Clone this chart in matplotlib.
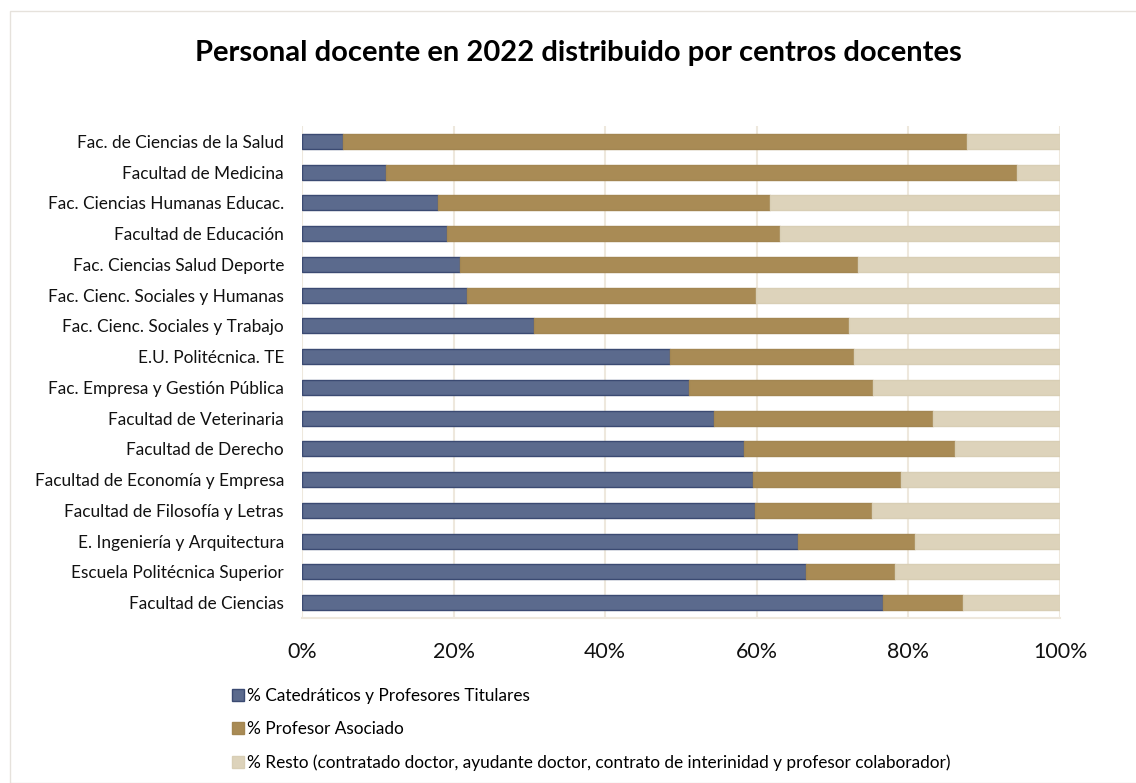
import matplotlib
matplotlib.use('Agg')
import matplotlib.pyplot as plt
from matplotlib.patches import Rectangle, Patch
from matplotlib.ticker import FuncFormatter

plt.rcParams['font.family'] = ['Lato', 'DejaVu Sans']

centros = [
    'Fac. de Ciencias de la Salud',
    'Facultad de Medicina',
    'Fac. Ciencias Humanas Educac.',
    'Facultad de Educación',
    'Fac. Ciencias Salud Deporte',
    'Fac. Cienc. Sociales y Humanas',
    'Fac. Cienc. Sociales y Trabajo',
    'E.U. Politécnica. TE',
    'Fac. Empresa y Gestión Pública',
    'Facultad de Veterinaria',
    'Facultad de Derecho',
    'Facultad de Economía y Empresa',
    'Facultad de Filosofía y Letras',
    'E. Ingeniería y Arquitectura',
    'Escuela Politécnica Superior',
    'Facultad de Ciencias',
]

catedraticos = [5.4, 11.1, 17.9, 19.1, 20.8, 21.8, 30.6, 48.5, 51.0, 54.4, 58.3, 59.5, 59.7, 65.4, 66.5, 76.6]
asociado = [82.3, 83.2, 43.8, 44.0, 52.5, 38.1, 41.6, 24.3, 24.3, 28.8, 27.9, 19.5, 15.5, 15.5, 11.7, 10.6]
resto = [round(100 - c - a, 1) for c, a in zip(catedraticos, asociado)]

series_labels = [
    '% Catedráticos y Profesores Titulares',
    '% Profesor Asociado',
    '% Resto (contratado doctor, ayudante doctor, contrato de interinidad y profesor colaborador)',
]
colors = ['#5B6A8D', '#A98B55', '#DDD3BB']
edges = ['#3B4A72', '#A38652', '#D8CEB5']
grid_color = '#EEE8DD'

fig = plt.figure(figsize=(11.36, 7.83), dpi=100)
W, H = 1136, 783
ax = fig.add_axes([302 / W, 1 - 618 / H, (1060 - 302) / W, (618 - 126) / H])

y = list(range(len(centros)))
left = [0] * len(centros)
for vals, col, ec, lab in zip([catedraticos, asociado, resto], colors, edges, series_labels):
    ax.barh(y, vals, left=left, height=0.49, color=col, edgecolor=ec, linewidth=1.0, label=lab, zorder=3)
    left = [l + v for l, v in zip(left, vals)]

ax.set_xlim(0, 100)
ax.set_ylim(len(centros) - 0.5, -0.5)
ax.set_yticks(y)
ax.set_yticklabels(centros, fontsize=12.4, color='#111111')
ax.set_xticks([0, 20, 40, 60, 80, 100])
ax.xaxis.set_major_formatter(FuncFormatter(lambda v, p: f'{int(v)}%'))
ax.tick_params(axis='x', labelsize=15.4, length=0, pad=17, colors='#111111')
ax.tick_params(axis='y', length=0, pad=13)
ax.grid(axis='x', color=grid_color, linewidth=1.5, zorder=0)
for s in ['top', 'right', 'left']:
    ax.spines[s].set_visible(False)
ax.spines['bottom'].set_color(grid_color)
ax.spines['bottom'].set_linewidth(1.5)

fig.text(578 / W, 1 - 53 / H, 'Personal docente en 2022 distribuido por centros docentes',
         ha='center', va='center', fontsize=21, fontweight='bold', color='#000000')

handles = [Patch(facecolor=c, edgecolor=e, linewidth=1.0) for c, e in zip(colors, edges)]
fig.legend(handles, series_labels, loc='upper left', bbox_to_anchor=(225 / W, 1 - 681 / H),
           frameon=False, fontsize=12.4, handlelength=0.7, handleheight=0.7,
           handletextpad=0.2, labelspacing=1.0, borderaxespad=0)

fig.patches.append(Rectangle((10 / W, 0), 1.0, 1 - 11 / H, transform=fig.transFigure,
                             fill=False, edgecolor='#E6E2DC', linewidth=1.0))

plt.savefig('out.png', dpi=100)
plt.close()
